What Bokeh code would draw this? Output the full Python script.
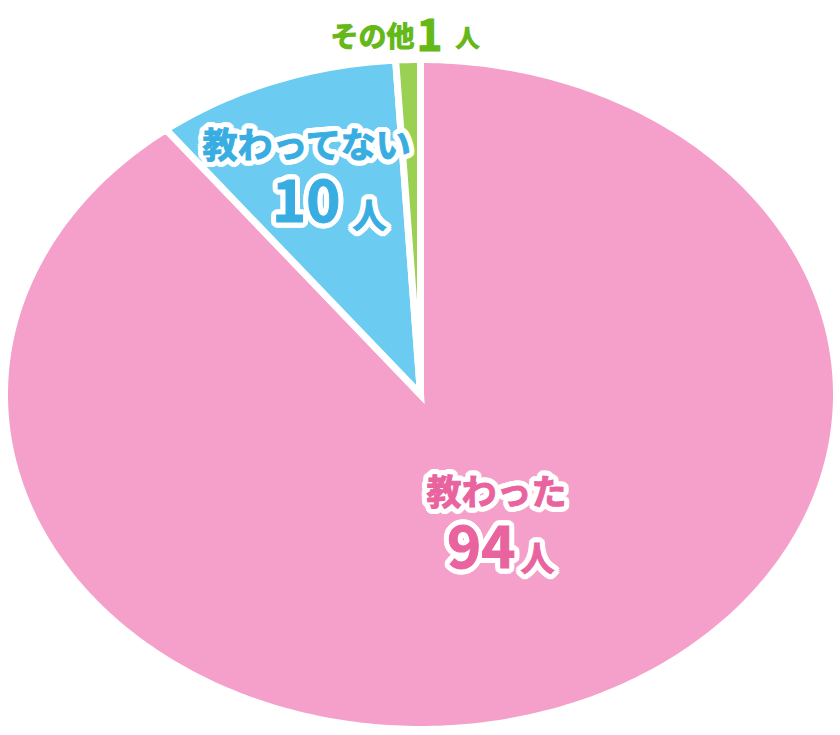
import math
from bokeh.plotting import figure
from bokeh.models import Range1d, ColumnDataSource
from bokeh.core.properties import value
from bokeh.embed import file_html
from bokeh.resources import INLINE

# ---- data ----
categories = ["教わった", "教わってない", "その他"]
counts = [94, 10, 1]
unit = "人"
fill_colors = ["#f5a0ca", "#6ccbf1", "#9bd152"]
text_colors = ["#e9639f", "#38ade2", "#64b817"]

# ---- layout (pixel geometry of the ellipse inside the canvas) ----
W, H = 840, 735
CX, CY, RX, RY = 420, 394, 416, 335   # canvas px


def dx(px):
    return (px - CX) / RX


def dy(py):
    return (CY - py) / RY


p = figure(width=W, height=H, output_backend="svg", toolbar_location=None,
           x_range=Range1d(dx(0), dx(W)), y_range=Range1d(dy(H), dy(0)),
           min_border=0, outline_line_color=None, background_fill_color="white",
           border_fill_color="white")
p.axis.visible = False
p.grid.visible = False

total = sum(counts)
xs, ys = [], []
start = 0.0
for c in counts:
    end = start + c / total * 2 * math.pi
    n = max(4, int(c / total * 400))
    px_, py_ = [0.0], [0.0]
    for i in range(n + 1):
        t = start + (end - start) * i / n
        px_.append(math.sin(t))
        py_.append(math.cos(t))
    xs.append(px_)
    ys.append(py_)
    start = end

p.patches(xs, ys, fill_color=fill_colors, line_color="white", line_width=7,
          line_join="miter")

font = value("Noto Sans CJK JP")

# label placement (canvas px):
# category (center x, middle y, size), number (right x, middle y, size), unit (left x, middle y, size)
label_layout = [
    dict(cat=(496, 489, 35), num=(515, 546, 58), unit=(520, 556, 34), halo=True),
    dict(cat=(307, 142, 35), num=(340, 200, 58), unit=(352, 213, 34), halo=True),
    dict(cat=(372, 34, 28), num=(442, 34, 44), unit=(455, 36, 24), halo=False),
]

HALO_R = 5
halo_dirs = [(HALO_R * math.cos(2 * math.pi * k / 20), HALO_R * math.sin(2 * math.pi * k / 20))
             for k in range(20)]


def label(px, py, txt, size, align, color, halo):
    if halo:
        n = len(halo_dirs)
        src = ColumnDataSource(dict(
            x=[dx(px)] * n, y=[dy(py)] * n, text=[txt] * n,
            xo=[d[0] for d in halo_dirs], yo=[d[1] for d in halo_dirs]))
        p.text(x="x", y="y", text="text", x_offset="xo", y_offset="yo", source=src,
               text_align=align, text_baseline="middle", text_font=font,
               text_font_style="bold", text_font_size=f"{size}px",
               text_color="white", text_outline_color="white")
    p.text(x=[dx(px)], y=[dy(py)], text=[txt], text_align=align,
           text_baseline="middle", text_font=font, text_font_style="bold",
           text_font_size=f"{size}px", text_color=color, text_outline_color=color)


for i, lay in enumerate(label_layout):
    cx_, cy_, cs = lay["cat"]
    nx, ny, ns = lay["num"]
    ux, uy, us = lay["unit"]
    label(cx_, cy_, categories[i], cs, "center", text_colors[i], lay["halo"])
    label(nx, ny, str(counts[i]), ns, "right", text_colors[i], lay["halo"])
    label(ux, uy, unit, us, "left", text_colors[i], lay["halo"])

open("out.html", "w").write(file_html(p, INLINE))
